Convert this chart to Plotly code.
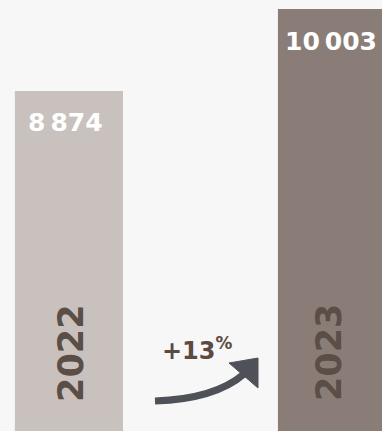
import plotly.graph_objects as go

years = ["2022", "2023"]
values = [8874, 10003]
value_labels = ["8\u2009874", "10\u2009003"]
growth_label = "+13<sup>%</sup>"
bar_colors = ["#c9c1bd", "#8a7d77"]

W, H = 382, 431
# axis ranges: chart is cropped, baseline sits below the visible area
y_lo, y_hi = 4188, 10127
x_lo, x_hi = -0.262, 1.190


def px2x(p):
    return x_lo + p / W * (x_hi - x_lo)


def py2y(p):
    return y_hi - p / H * (y_hi - y_lo)


fig = go.Figure()
fig.add_trace(go.Bar(
    x=[0, 1], y=values, width=0.411,
    marker=dict(color=bar_colors, line=dict(width=0)),
    hoverinfo="skip",
))

# value labels near the top of each bar
for i, (v, lab) in enumerate(zip(values, value_labels)):
    fig.add_annotation(x=i, y=v, text=lab, showarrow=False, yshift=-32,
                       xshift=-3 if i == 0 else -1,
                       font=dict(family="DejaVu Sans", size=25, color="white", weight="bold"))
    fig.add_annotation(x=i, y=py2y(353), text=years[i], showarrow=False, textangle=-90,
                       xshift=2 if i == 0 else -3,
                       font=dict(family="DejaVu Sans", size=35, color="#5a4e47", weight="bold"))

# growth note with curved arrow
fig.add_annotation(x=px2x(197), y=py2y(349), text=growth_label, showarrow=False,
                   font=dict(family="DejaVu Sans", size=24, color="#5b4a41", weight="bold"))

shaft = "M {},{} Q {},{} {},{}".format(px2x(155), py2y(401), px2x(215), py2y(399),
                                       px2x(244), py2y(374))
fig.add_shape(type="path", path=shaft, line=dict(color="#4f5158", width=7))
head = "M {},{} L {},{} L {},{} Z".format(px2x(229), py2y(363), px2x(258), py2y(358),
                                         px2x(258), py2y(388))
fig.add_shape(type="path", path=head, fillcolor="#4f5158", line=dict(color="#4f5158", width=1))

fig.update_layout(
    width=W, height=H,
    margin=dict(l=0, r=0, t=0, b=0),
    paper_bgcolor="#f7f7f7", plot_bgcolor="#f7f7f7",
    showlegend=False,
    xaxis=dict(range=[x_lo, x_hi], visible=False, fixedrange=True),
    yaxis=dict(range=[y_lo, y_hi], visible=False, fixedrange=True),
)

fig.write_html("out.html", config={"displayModeBar": False},
               post_script="document.body.style.margin='0';document.body.style.overflow='hidden';")
